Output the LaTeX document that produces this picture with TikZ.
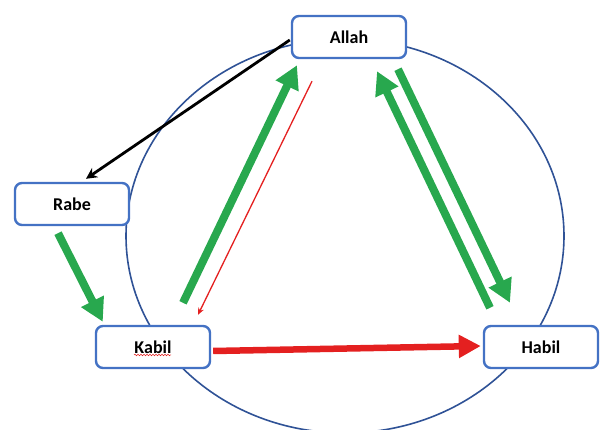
\documentclass[tikz,border=0pt]{standalone}
\usepackage{fontspec}
\setmainfont{Carlito}
\usepackage{tikz}
\usetikzlibrary{arrows.meta,calc,decorations.pathmorphing}
\definecolor{boxblue}{RGB}{68,114,196}
\definecolor{ringblue}{RGB}{47,82,150}
\definecolor{arrowgreen}{RGB}{40,168,78}
\definecolor{arrowred}{RGB}{228,32,32}
\tikzset{person/.style={
    draw=boxblue, line width=2.4pt, fill=white,
    rounded corners=7pt, minimum width=114pt, minimum height=42pt,
    font=\fontsize{18}{20}\selectfont\bfseries
  },
  bigarrow/.style={
    draw=arrowgreen, line width=8pt,
    -{Triangle[length=23pt,width=24pt]}
  },
  redarrow/.style={
    draw=arrowred, line width=6.5pt,
    -{Triangle[length=22pt,width=22pt]}
  },
  thinred/.style={
    draw=arrowred, line width=1.3pt,
    -{Stealth[length=7pt,width=6pt]}
  },
  blackarrow/.style={
    draw=black, line width=2.8pt,
    -{Stealth[length=11pt,width=11pt]}
  }
}

\begin{document}
\begin{tikzpicture}[x=1pt,y=-1pt]
    \useasboundingbox (0,0) rectangle (603,430);
    \draw[ringblue, line width=1.6pt] (345,236) ellipse [x radius=219, y radius=197];
    \node[person] (allah) at (349,37) {Allah};
    \node[person] (rabe) at (72,204) {Rabe};
    \node[person] (kabil) at (153,347) {Kabil};
    \node[person] (habil) at (541,347) {Habil};
    % spelling mark under Kabil
    \draw[arrowred, line width=0.5pt, decorate,
      decoration={snake, amplitude=0.8pt, segment length=3pt}]
      ($(kabil.center)+(-19,8)$) -- ($(kabil.center)+(18,8)$);
    \draw[blackarrow] ($(allah.west)+(-1,3)$) -- ($(rabe.north)+(14,-3)$);
    \draw[bigarrow] ($(rabe.south)+(-14,7)$) -- ($(kabil.north west)+(8,-3)$);
    \draw[bigarrow] ($(kabil.north)+(30,-22)$) -- ($(allah.south)+(-52,6)$);
    \draw[thinred] ($(allah.south)+(-37,22)$) -- ($(kabil.north)+(45,-10)$);
    \draw[bigarrow] ($(allah.south)+(49,10)$) -- ($(habil.north)+(-31,-22)$);
    \draw[bigarrow] ($(habil.north)+(-51,-17)$) -- ($(allah.south)+(28,12)$);
    \draw[redarrow] ($(kabil.east)+(2,4)$) -- ($(habil.west)+(-2,-1)$);
\end{tikzpicture}
\end{document}
